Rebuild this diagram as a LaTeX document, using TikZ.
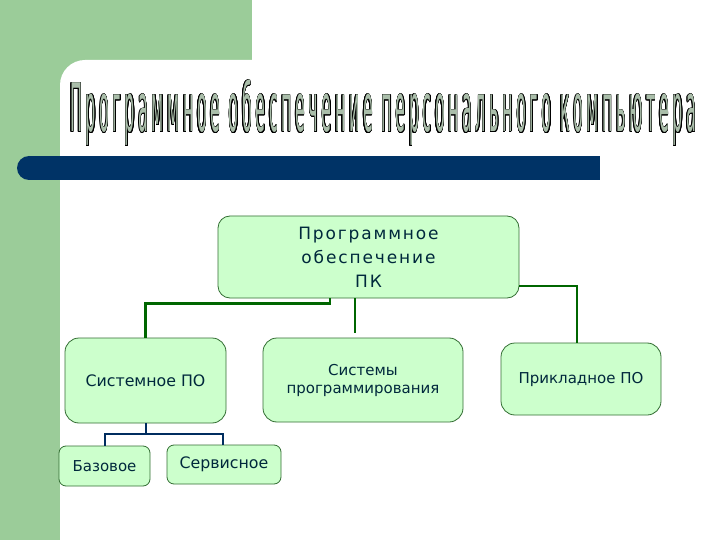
\documentclass[tikz,border=0pt]{standalone}
\usepackage{fontspec}
\setmainfont{DejaVu Sans}
\newfontfamily\titlefont[LetterSpace=22]{DejaVu Sans}
\newfontfamily\spacedfont[LetterSpace=11]{DejaVu Sans}
\usepackage[copies]{contour}
\contourlength{0.5pt}
\definecolor{bggreen}{RGB}{155,204,153}
\definecolor{navybar}{RGB}{0,51,102}
\definecolor{titlefill}{RGB}{170,190,170}
\definecolor{boxfill}{RGB}{204,255,204}
\definecolor{boxline}{RGB}{51,110,51}
\definecolor{connA}{RGB}{0,102,0}
\definecolor{connB}{RGB}{0,45,95}
\definecolor{boxtext}{RGB}{0,40,60}
\tikzset{
  box/.style={draw=boxline, line width=0.8pt, fill=boxfill, rounded corners=12pt,
    inner sep=0pt, text=boxtext, align=center, font=\fontsize{15}{18}\selectfont},
  smallbox/.style={box, rounded corners=7pt},
  linkA/.style={draw=connA, line width=2.4pt},
  linkB/.style={draw=connB, line width=2pt},
}
\begin{document}
\begin{tikzpicture}[x=1pt,y=-1pt]
\clip (0,0) rectangle (720,540);
\fill[white] (0,0) rectangle (720,540);
% background
\fill[bggreen] (0,0) rectangle (252,60);
\fill[bggreen] (0,0) rectangle (60,540);
\fill[bggreen] (60,60) rectangle (100,100);
\fill[white, rounded corners=25pt] (60,600) -- (60,60) -- (780,60) -- (780,600) -- cycle;
% navy bar
\fill[navybar] (29,156) rectangle (600,180);
\fill[navybar] (29,168) circle (12);
% title
\node[anchor=base west, inner sep=0pt, text=titlefill] (title) at (70,132)
  {\contour{black}{\resizebox{626pt}{52pt}{\titlefont Программное обеспечение персонального компьютера}}};
% nodes
\node[box, minimum width=301pt, minimum height=82pt, font=\fontsize{17}{24}\selectfont\spacedfont] (t) at (368.5,257)
  {Программное\\обеспечение\\ПК};
\node[box, rounded corners=14pt, minimum width=161pt, minimum height=85pt, font=\fontsize{15.8}{18}\selectfont] (s1) at (145.5,380.5) {Системное ПО};
\node[box, rounded corners=14pt, minimum width=200pt, minimum height=84pt] (s2) at (363,380) {Системы\\программирования};
\node[box, rounded corners=14pt, minimum width=160pt, minimum height=72pt] (s3) at (581,379) {Прикладное ПО};
\node[smallbox, minimum width=91pt, minimum height=40pt] (b1) at (104.5,466) {Базовое};
\node[smallbox, minimum width=114pt, minimum height=39pt, font=\fontsize{15.8}{18}\selectfont] (b2) at (224,464.5) {Сервисное};
% connectors
\draw[linkA] ([xshift=-38.5pt]t.south) -- ++(0,5) -| (s1.north);
\draw[linkA] ([xshift=-13.5pt]t.south) -- ([xshift=-8pt,yshift=5pt]s2.north);
\draw[linkA] ([yshift=-29pt]t.east) -| ([xshift=-4pt]s3.north);
\draw[linkB] (s1.south) -- ++(0,11) coordinate (j);
\draw[linkB] (b1.north) |- (j) -| ([xshift=-1pt]b2.north);
\end{tikzpicture}
\end{document}
